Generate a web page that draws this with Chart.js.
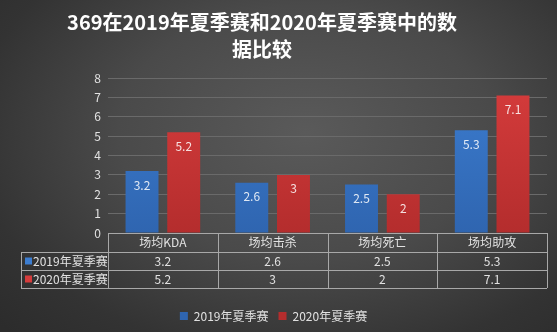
<!DOCTYPE html>
<html>
<head>
<meta charset="utf-8">
<script src="https://cdn.jsdelivr.net/npm/chart.js@4/dist/chart.umd.min.js"></script>
<style>
  html, body { margin: 0; padding: 0; }
  body {
    width: 557px; height: 332px; overflow: hidden;
    background: radial-gradient(ellipse 75% 85% at 55% 40%, #5a5a5a 0%, #4a4a4a 45%, #333 80%, #2c2c2c 100%);
  }
  #box { position: relative; width: 557px; height: 332px; }
</style>
</head>
<body>
<div id="box"><canvas id="chart"></canvas></div>
<script>
const titleLines = ['369在2019年夏季赛和2020年夏季赛中的数', '据比较'];
const categories = ['场均KDA', '场均击杀', '场均死亡', '场均助攻'];
const seriesNames = ['2019年夏季赛', '2020年夏季赛'];
const values2019 = [3.2, 2.6, 2.5, 5.3];
const values2020 = [5.2, 3, 2, 7.1];
const yMin = 0, yMax = 8, yStep = 1;

const FONT = "'Noto Sans CJK SC', 'Microsoft YaHei', sans-serif";
const BLUE = ['#3c7dd0', '#2f65b0'];
const RED = ['#d63c3c', '#b42d2d'];
const LINE = '#a8a8a8';
const TEXT = '#e2e2e2';

function barFill(colors) {
  return ctx => {
    const area = ctx.chart.chartArea;
    if (!area) return colors[0];
    const g = ctx.chart.ctx.createLinearGradient(0, area.top, 0, area.bottom);
    g.addColorStop(0, colors[0]);
    g.addColorStop(1, colors[1]);
    return g;
  };
}

// two-line heading above the plot
const titlePlugin = {
  id: 'heading',
  afterDraw(chart) {
    const c = chart.ctx;
    c.save();
    c.fillStyle = '#ffffff';
    c.font = 'bold 20px ' + FONT;
    c.textAlign = 'center';
    c.textBaseline = 'middle';
    titleLines.forEach((t, i) => c.fillText(t, 262, 22 + i * 27));
    c.restore();
  }
};

// value printed inside the top of each bar
const barValues = {
  id: 'barValues',
  afterDatasetsDraw(chart) {
    const c = chart.ctx;
    c.save();
    c.font = '12px ' + FONT;
    c.fillStyle = 'rgba(255,255,255,0.85)';
    c.textAlign = 'center';
    c.textBaseline = 'middle';
    chart.data.datasets.forEach((ds, i) => {
      chart.getDatasetMeta(i).data.forEach((bar, j) => {
        c.fillText(String(ds.data[j]), bar.x, bar.y + 14);
      });
    });
    c.restore();
  }
};

// data table under the x axis
const dataTable = {
  id: 'dataTable',
  afterDraw(chart) {
    const c = chart.ctx;
    const area = chart.chartArea;
    const xs = chart.scales.x;
    const n = categories.length;
    const colW = (area.right - area.left) / n;
    const top = area.bottom;
    const rows = [top, top + 19, top + 37, top + 55];
    const labelLeft = 21;
    c.save();
    c.strokeStyle = LINE;
    c.lineWidth = 1;
    c.beginPath();
    // horizontal lines
    c.moveTo(area.left, rows[0] + 0.5); c.lineTo(area.right, rows[0] + 0.5);
    for (let r = 1; r < rows.length; r++) {
      c.moveTo(labelLeft, Math.round(rows[r]) + 0.5);
      c.lineTo(area.right, Math.round(rows[r]) + 0.5);
    }
    // vertical lines
    c.moveTo(labelLeft + 0.5, rows[1]); c.lineTo(labelLeft + 0.5, rows[3]);
    for (let i = 0; i <= n; i++) {
      const x = Math.round(area.left + i * colW) + 0.5;
      c.moveTo(x, rows[0]); c.lineTo(x, rows[3]);
    }
    c.stroke();

    c.font = '12px ' + FONT;
    c.textBaseline = 'middle';
    chart.data.datasets.forEach((ds, r) => {
      const cy = (rows[r + 1] + rows[r + 2]) / 2;
      c.fillStyle = [BLUE, RED][r][0];
      c.fillRect(labelLeft + 4, cy - 3.5, 7, 7);
      c.fillStyle = TEXT;
      c.textAlign = 'left';
      c.fillText(ds.label, labelLeft + 12, cy);
      c.textAlign = 'center';
      ds.data.forEach((v, j) => c.fillText(String(v), xs.getPixelForValue(j), cy));
    });
    c.restore();
  }
};

new Chart(document.getElementById('chart'), {
  type: 'bar',
  data: {
    labels: categories,
    datasets: [
      { label: seriesNames[0], data: values2019, backgroundColor: barFill(BLUE) },
      { label: seriesNames[1], data: values2020, backgroundColor: barFill(RED) }
    ]
  },
  options: {
    responsive: true,
    maintainAspectRatio: false,
    animation: false,
    categoryPercentage: 0.76,
    barPercentage: 0.79,
    layout: { padding: { left: 0, right: 10, top: 78, bottom: 0 } },
    scales: {
      x: {
        grid: { display: false, drawTicks: false },
        border: { display: false },
        ticks: { color: TEXT, font: { size: 12, family: FONT }, padding: 2 },
        afterFit(scale) { scale.height = 67; }
      },
      y: {
        min: yMin, max: yMax,
        grid: { color: '#6a6a6a', drawTicks: false },
        border: { display: false },
        ticks: { stepSize: yStep, color: TEXT, font: { size: 12, family: FONT }, padding: 7 },
        afterFit(scale) { scale.width = 108; }
      }
    },
    plugins: {
      legend: {
        position: 'bottom',
        labels: { color: TEXT, boxWidth: 8, boxHeight: 8, padding: 10, font: { size: 12, family: FONT } }
      },
      tooltip: { enabled: false }
    }
  },
  plugins: [titlePlugin, barValues, dataTable]
});
</script>
</body>
</html>
